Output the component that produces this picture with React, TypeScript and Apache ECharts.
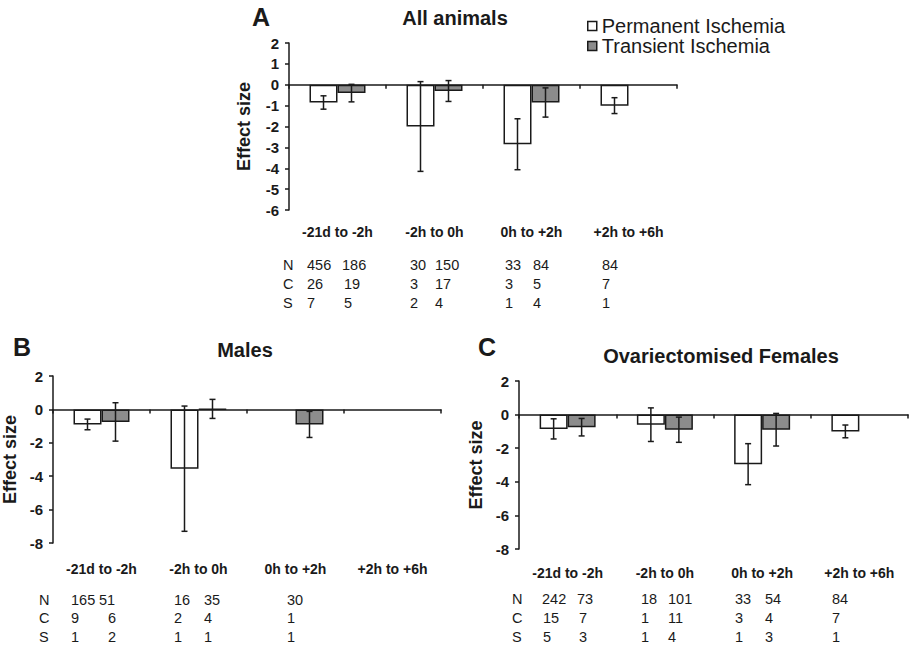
import React, { useEffect, useRef } from 'react';
import * as echarts from 'echarts';

// ---------- data ----------
const categories = ['-21d to -2h', '-2h to 0h', '0h to +2h', '+2h to +6h'];
const seriesNames = ['Permanent Ischemia', 'Transient Ischemia'];

// Panel A: All animals
const allPerm = [-0.85, -2.0, -2.85, -1.0];
const allPermErr = [0.32, 2.15, 1.22, 0.38];
const allTrans = [-0.4, -0.3, -0.85, null];
const allTransErr = [0.42, 0.5, 0.7, null];

// Panel B: Males
const malePerm = [-0.9, -3.55, null, null];
const malePermErr = [0.32, 3.75, null, null];
const maleTrans = [-0.75, 0.03, -0.9, null];
const maleTransErr = [1.15, 0.57, 0.78, null];

// Panel C: Ovariectomised Females
const ovxPerm = [-0.85, -0.6, -2.95, -1.0];
const ovxPermErr = [0.6, 1.0, 1.22, 0.38];
const ovxTrans = [-0.75, -0.9, -0.9, null];
const ovxTransErr = [0.52, 0.75, 0.97, null];

// tables (N = number of animals, C = comparisons, S = studies)
const tableRowLabels = ['N', 'C', 'S'];
const allN = ['456', '186', '30', '150', '33', '84', '84'];
const allC = ['26', '19', '3', '17', '3', '5', '7'];
const allS = ['7', '5', '2', '4', '1', '4', '1'];
const maleN = ['165', '51', '16', '35', '30'];
const maleC = ['9', '6', '2', '4', '1'];
const maleS = ['1', '2', '1', '1', '1'];
const ovxN = ['242', '73', '18', '101', '33', '54', '84'];
const ovxC = ['15', '7', '1', '11', '3', '4', '7'];
const ovxS = ['5', '3', '1', '4', '1', '3', '1'];

// ---------- layout ----------
const FONT = '"Liberation Sans", Arial, Helvetica, sans-serif';
const BAR_W = 28;
const GRAY = '#8c8c8c';
const INK = '#1a1a1a';

const panels = [
  {
    letter: 'A', title: 'All animals',
    grid: { left: 289, top: 43, width: 388, height: 167 },
    yMin: -6, yMax: 2, yInterval: 1, labelMargin: 15, nameGap: 36,
    letterPos: [261, 17], titlePos: [455, 18],
    perm: allPerm, permErr: allPermErr, trans: allTrans, transErr: allTransErr,
    rows: [allN, allC, allS],
    rowLetterX: 283, rowY: [265, 284, 303],
    colX: [
      [307, 342, 410, 435, 505, 533, 602],
      [307, 344, 410, 435, 505, 533, 602],
      [307, 344, 410, 435, 505, 533, 602],
    ],
  },
  {
    letter: 'B', title: 'Males',
    grid: { left: 52, top: 376, width: 389, height: 167 },
    yMin: -8, yMax: 2, yInterval: 2, labelMargin: 19, nameGap: 34,
    letterPos: [22, 347], titlePos: [245, 350],
    perm: malePerm, permErr: malePermErr, trans: maleTrans, transErr: maleTransErr,
    rows: [maleN, maleC, maleS],
    rowLetterX: 39, rowY: [600, 618, 637],
    colX: [
      [71, 99, 174, 204, 287],
      [71, 108, 174, 204, 287],
      [71, 108, 174, 204, 287],
    ],
  },
  {
    letter: 'C', title: 'Ovariectomised Females',
    grid: { left: 519, top: 381, width: 389, height: 168 },
    yMin: -8, yMax: 2, yInterval: 2, labelMargin: 17, nameGap: 34,
    letterPos: [487, 347], titlePos: [721, 356],
    perm: ovxPerm, permErr: ovxPermErr, trans: ovxTrans, transErr: ovxTransErr,
    rows: [ovxN, ovxC, ovxS],
    rowLetterX: 512, rowY: [599, 618, 637],
    colX: [
      [542, 577, 641, 668, 735, 765, 832],
      [543, 579, 641, 668, 735, 765, 832],
      [543, 579, 641, 668, 735, 765, 832],
    ],
  },
];

function errData(vals: (number | null)[], errs: (number | null)[]) {
  const out: number[][] = [];
  vals.forEach((v, i) => {
    const e = errs[i];
    if (v != null && e != null) out.push([i, v - e, v + e]);
  });
  return out;
}

function makeErrRender(side: number) {
  return (params: any, api: any) => {
    const ci = api.value(0);
    const lo = api.value(1);
    const hi = api.value(2);
    const pTop = api.coord([ci, hi]);
    const pBot = api.coord([ci, lo]);
    const x = pTop[0] + side * (BAR_W / 2);
    const st = { stroke: INK, lineWidth: 1.5 };
    return {
      type: 'group',
      children: [
        { type: 'line', shape: { x1: x, y1: pTop[1], x2: x, y2: pBot[1] }, style: st },
        { type: 'line', shape: { x1: x - 3, y1: pTop[1], x2: x + 3, y2: pTop[1] }, style: st },
        { type: 'line', shape: { x1: x - 3, y1: pBot[1], x2: x + 3, y2: pBot[1] }, style: st },
      ],
    };
  };
}

function buildOption() {
  const grid: any[] = [];
  const xAxis: any[] = [];
  const yAxis: any[] = [];
  const series: any[] = [];
  const graphic: any[] = [];

  panels.forEach((p, i) => {
    grid.push({ ...p.grid, containLabel: false });
    // label axis (bottom)
    xAxis.push({
      type: 'category', gridIndex: i, data: categories, position: 'bottom',
      axisLine: { show: false, onZero: false }, axisTick: { show: false },
      axisLabel: { show: true, interval: 0, margin: p.labelMargin, color: INK, fontFamily: FONT, fontSize: 14, fontWeight: 'bold' },
      splitLine: { show: false },
    });
    // zero line axis
    xAxis.push({
      type: 'category', gridIndex: i, data: categories, position: 'bottom',
      axisLine: { show: true, onZero: true, lineStyle: { color: INK, width: 1.5 } },
      axisTick: { show: true, interval: 0, length: 4, lineStyle: { color: INK, width: 1.5 } },
      axisLabel: { show: false }, splitLine: { show: false },
    });
    yAxis.push({
      type: 'value', gridIndex: i, min: p.yMin, max: p.yMax, interval: p.yInterval,
      name: 'Effect size', nameLocation: 'middle', nameGap: p.nameGap,
      nameTextStyle: { color: INK, fontFamily: FONT, fontSize: 18, fontWeight: 'bold' },
      axisLine: { show: true, lineStyle: { color: INK, width: 1.5 } },
      axisTick: { show: true, length: 4, lineStyle: { color: INK, width: 1.5 } },
      axisLabel: { color: INK, fontFamily: FONT, fontSize: 15, fontWeight: 'bold', margin: 10 },
      splitLine: { show: false },
    });
    const xi = i * 2;
    series.push({
      name: seriesNames[0], type: 'bar', xAxisIndex: xi, yAxisIndex: i,
      data: p.perm.map((v) => (v == null ? '-' : v)), barWidth: BAR_W, barGap: '0%',
      itemStyle: { color: '#ffffff', borderColor: INK, borderWidth: 1.5 },
    });
    series.push({
      name: seriesNames[1], type: 'bar', xAxisIndex: xi, yAxisIndex: i,
      data: p.trans.map((v) => (v == null ? '-' : v)), barWidth: BAR_W, barGap: '0%',
      itemStyle: { color: GRAY, borderColor: INK, borderWidth: 1.5 },
    });
    series.push({
      type: 'custom', xAxisIndex: xi, yAxisIndex: i, z: 5,
      renderItem: makeErrRender(-1), data: errData(p.perm, p.permErr),
      encode: { x: 0, y: [1, 2] },
    });
    series.push({
      type: 'custom', xAxisIndex: xi, yAxisIndex: i, z: 5,
      renderItem: makeErrRender(1), data: errData(p.trans, p.transErr),
      encode: { x: 0, y: [1, 2] },
    });

    graphic.push({
      type: 'text', x: p.letterPos[0], y: p.letterPos[1],
      style: { text: p.letter, font: `bold 25px ${FONT}`, fill: INK, textAlign: 'center', textVerticalAlign: 'middle' },
    });
    graphic.push({
      type: 'text', x: p.titlePos[0], y: p.titlePos[1],
      style: { text: p.title, font: `bold 20px ${FONT}`, fill: INK, textAlign: 'center', textVerticalAlign: 'middle' },
    });
    p.rows.forEach((row, r) => {
      graphic.push({
        type: 'text', x: p.rowLetterX, y: p.rowY[r],
        style: { text: tableRowLabels[r], font: `14.5px ${FONT}`, fill: INK, textAlign: 'left', textVerticalAlign: 'middle' },
      });
      row.forEach((txt, c) => {
        graphic.push({
          type: 'text', x: p.colX[r][c], y: p.rowY[r],
          style: { text: txt, font: `14.5px ${FONT}`, fill: INK, textAlign: 'left', textVerticalAlign: 'middle' },
        });
      });
    });
  });

  return {
    animation: false,
    backgroundColor: '#ffffff',
    grid, xAxis, yAxis, series, graphic,
    legend: {
      show: true, orient: 'vertical', left: 587, top: 16, padding: 0, itemGap: 0,
      itemWidth: 9, itemHeight: 9, selectedMode: false,
      textStyle: { color: INK, fontFamily: FONT, fontSize: 20 },
      data: [
        { name: seriesNames[0], icon: 'rect', itemStyle: { color: '#ffffff', borderColor: INK, borderWidth: 1.5 } },
        { name: seriesNames[1], icon: 'rect', itemStyle: { color: GRAY, borderColor: INK, borderWidth: 1.5 } },
      ],
    },
  };
}

export default function App() {
  const ref = useRef<HTMLDivElement>(null);
  useEffect(() => {
    if (!ref.current) return;
    const chart = echarts.init(ref.current, undefined, { renderer: 'svg' });
    chart.setOption(buildOption() as any);
    return () => chart.dispose();
  }, []);
  return <div ref={ref} style={{ position: 'absolute', left: 0, top: 0, width: 909, height: 645 }} />;
}
